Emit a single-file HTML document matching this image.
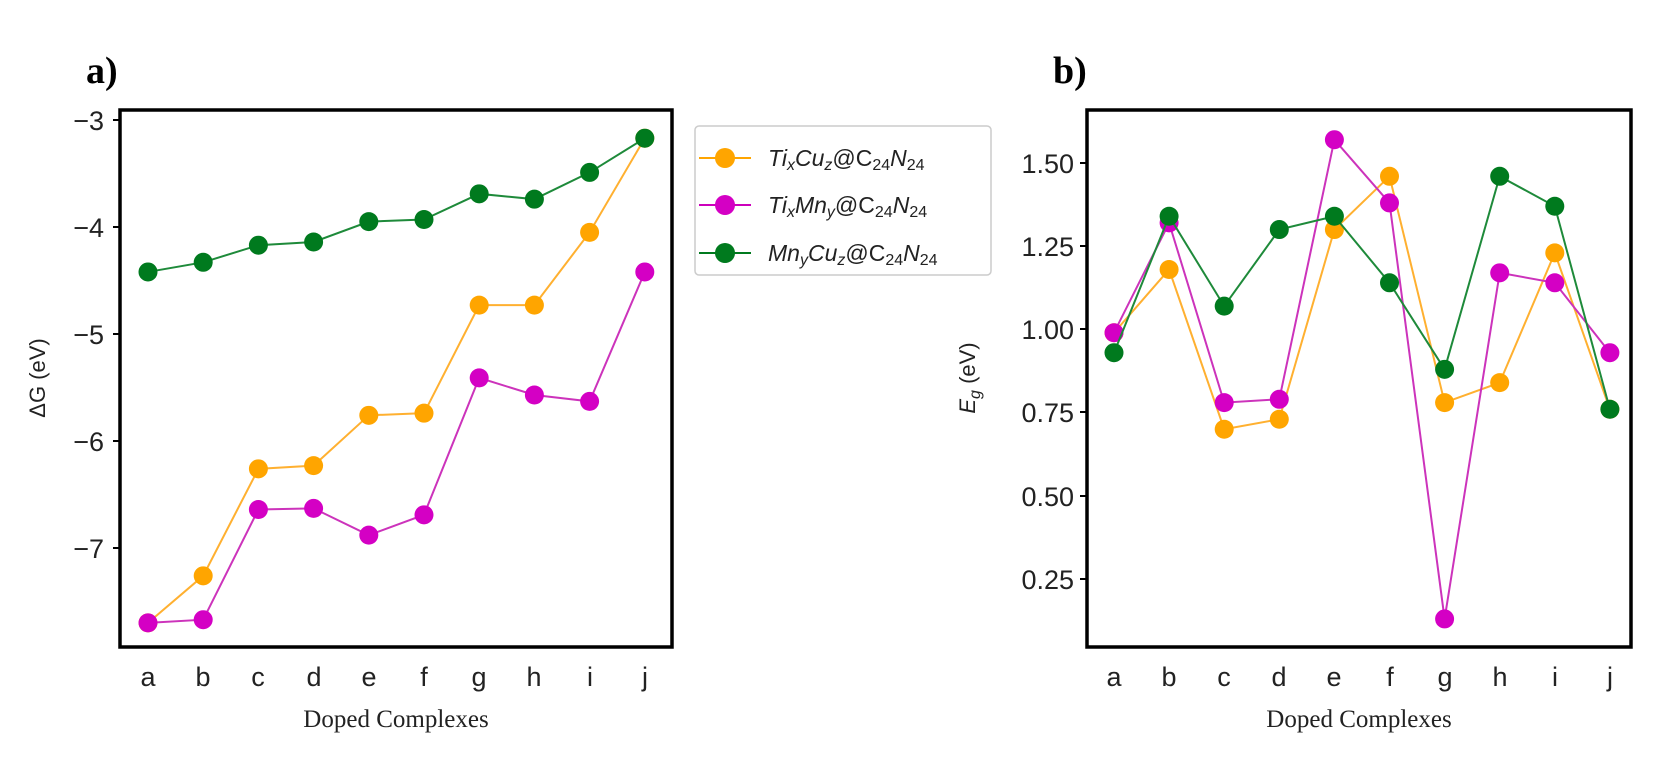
<!DOCTYPE html>
<html><head><meta charset="utf-8"><style>
html,body{margin:0;padding:0;background:#fff;width:1663px;height:764px;overflow:hidden}
svg text{font-family:"Liberation Sans",sans-serif}
</style></head><body>
<svg id="s" width="1663" height="764" xmlns="http://www.w3.org/2000/svg">
<rect width="1663" height="764" fill="#fff"/>
<text x="86" y="83" font-weight="bold" font-size="38" style="font-family:'Liberation Serif',serif">a)</text>
<text x="1053" y="83" font-weight="bold" font-size="38" style="font-family:'Liberation Serif',serif">b)</text>
<!-- left axes -->
<g font-size="27" fill="#222" text-anchor="end">
<text x="104" y="130">−3</text><text x="104" y="237">−4</text><text x="104" y="344">−5</text><text x="104" y="451">−6</text><text x="104" y="558">−7</text>
</g>
<g stroke="#000" stroke-width="2">
<line x1="113" y1="120" x2="120" y2="120"/><line x1="113" y1="227" x2="120" y2="227"/><line x1="113" y1="334" x2="120" y2="334"/><line x1="113" y1="441" x2="120" y2="441"/><line x1="113" y1="548" x2="120" y2="548"/>
</g>
<text transform="translate(45,378) rotate(-90)" text-anchor="middle" font-size="22" fill="#222">ΔG (eV)</text>
<g font-size="27" fill="#222" text-anchor="middle">
<text x="148" y="686">a</text><text x="203" y="686">b</text><text x="258" y="686">c</text><text x="314" y="686">d</text><text x="369" y="686">e</text><text x="424" y="686">f</text><text x="479" y="686">g</text><text x="534" y="686">h</text><text x="590" y="686">i</text><text x="645" y="686">j</text>
</g>
<text x="396" y="727" text-anchor="middle" font-size="25" fill="#222" style="font-family:'Liberation Serif',serif">Doped Complexes</text>
<!-- right axes -->
<g font-size="27" fill="#222" text-anchor="end">
<text x="1074" y="173">1.50</text><text x="1074" y="256">1.25</text><text x="1074" y="339">1.00</text><text x="1074" y="422">0.75</text><text x="1074" y="506">0.50</text><text x="1074" y="589">0.25</text>
</g>
<g stroke="#000" stroke-width="2">
<line x1="1080" y1="163" x2="1087" y2="163"/><line x1="1080" y1="246" x2="1087" y2="246"/><line x1="1080" y1="329" x2="1087" y2="329"/><line x1="1080" y1="412" x2="1087" y2="412"/><line x1="1080" y1="496" x2="1087" y2="496"/><line x1="1080" y1="579" x2="1087" y2="579"/>
</g>
<text transform="translate(975,378) rotate(-90)" text-anchor="middle" font-size="22" fill="#222"><tspan font-style="italic">E</tspan><tspan font-style="italic" font-size="16" dy="5">g</tspan><tspan dy="-5"> (eV)</tspan></text>
<g font-size="27" fill="#222" text-anchor="middle">
<text x="1114" y="686">a</text><text x="1169" y="686">b</text><text x="1224" y="686">c</text><text x="1279" y="686">d</text><text x="1334" y="686">e</text><text x="1390" y="686">f</text><text x="1445" y="686">g</text><text x="1500" y="686">h</text><text x="1555" y="686">i</text><text x="1610" y="686">j</text>
</g>
<text x="1359" y="727" text-anchor="middle" font-size="25" fill="#222" style="font-family:'Liberation Serif',serif">Doped Complexes</text>
<g id="data"></g>
<rect x="120" y="110" width="552" height="537" fill="none" stroke="#000" stroke-width="3.5"/>
<rect x="1087" y="110" width="544" height="537" fill="none" stroke="#000" stroke-width="3.5"/>
<!-- legend -->
<rect x="695" y="126" width="296" height="149" rx="4" fill="#fff" stroke="#ccc" stroke-width="1.5"/>
<g stroke-width="2"><line x1="699" y1="158" x2="751" y2="158" stroke="#FFA500"/><line x1="699" y1="205" x2="751" y2="205" stroke="#CC00BB"/><line x1="699" y1="253" x2="751" y2="253" stroke="#007A1E"/></g>
<circle cx="725" cy="158" r="10" fill="#FFA500"/><circle cx="725" cy="205" r="10" fill="#D400C4"/><circle cx="725" cy="253" r="10" fill="#007A1E"/>
<g font-size="23" fill="#222">
<text x="768" y="166"><tspan font-style="italic">Ti</tspan><tspan font-style="italic" font-size="16" dy="4">x</tspan><tspan font-style="italic" dy="-4">Cu</tspan><tspan font-style="italic" font-size="16" dy="4">z</tspan><tspan dy="-4">@C</tspan><tspan font-size="16" dy="4">24</tspan><tspan font-style="italic" dy="-4">N</tspan><tspan font-size="16" dy="4">24</tspan></text>
<text x="768" y="213"><tspan font-style="italic">Ti</tspan><tspan font-style="italic" font-size="16" dy="4">x</tspan><tspan font-style="italic" dy="-4">Mn</tspan><tspan font-style="italic" font-size="16" dy="4">y</tspan><tspan dy="-4">@C</tspan><tspan font-size="16" dy="4">24</tspan><tspan font-style="italic" dy="-4">N</tspan><tspan font-size="16" dy="4">24</tspan></text>
<text x="768" y="261"><tspan font-style="italic">Mn</tspan><tspan font-style="italic" font-size="16" dy="4">y</tspan><tspan font-style="italic" dy="-4">Cu</tspan><tspan font-style="italic" font-size="16" dy="4">z</tspan><tspan dy="-4">@C</tspan><tspan font-size="16" dy="4">24</tspan><tspan font-style="italic" dy="-4">N</tspan><tspan font-size="16" dy="4">24</tspan></text>
</g>
</svg>
<script>
var NS="http://www.w3.org/2000/svg",g=document.getElementById("data");
var C={o:"#FFA500",m:"#D400C4",g:"#007A1E"},L={o:"#FFB030",m:"#CC33BB",g:"#1E8A3A"};
function plot(x0,dx,y0,ky,v0,d,order){
 order.forEach(function(k){
  var pts=d[k].map(function(v,i){return [x0+i*dx,y0-(v-v0)*ky];});
  var p=document.createElementNS(NS,"polyline");
  p.setAttribute("points",pts.map(function(a){return a.join(",")}).join(" "));
  p.setAttribute("fill","none");p.setAttribute("stroke",L[k]);p.setAttribute("stroke-width","2");g.appendChild(p);
  pts.forEach(function(a){var c=document.createElementNS(NS,"circle");c.setAttribute("cx",a[0]);c.setAttribute("cy",a[1]);c.setAttribute("r","9.5");c.setAttribute("fill",C[k]);g.appendChild(c);});
 });
}
plot(148,55.2,120,107,-3,{
 g:[-4.42,-4.33,-4.17,-4.14,-3.95,-3.93,-3.69,-3.74,-3.49,-3.17],
 o:[-7.7,-7.26,-6.26,-6.23,-5.76,-5.74,-4.73,-4.73,-4.05,-3.17],
 m:[-7.7,-7.67,-6.64,-6.63,-6.88,-6.69,-5.41,-5.57,-5.63,-4.42]},["o","m","g"]);
plot(1114,55.1,163,332.8,1.5,{
 o:[.99,1.18,.70,.73,1.30,1.46,.78,.84,1.23,.76],
 m:[.99,1.32,.78,.79,1.57,1.38,.13,1.17,1.14,.93],
 g:[.93,1.34,1.07,1.30,1.34,1.14,.88,1.46,1.37,.76]},["o","m","g"]);
</script>
</body></html>
